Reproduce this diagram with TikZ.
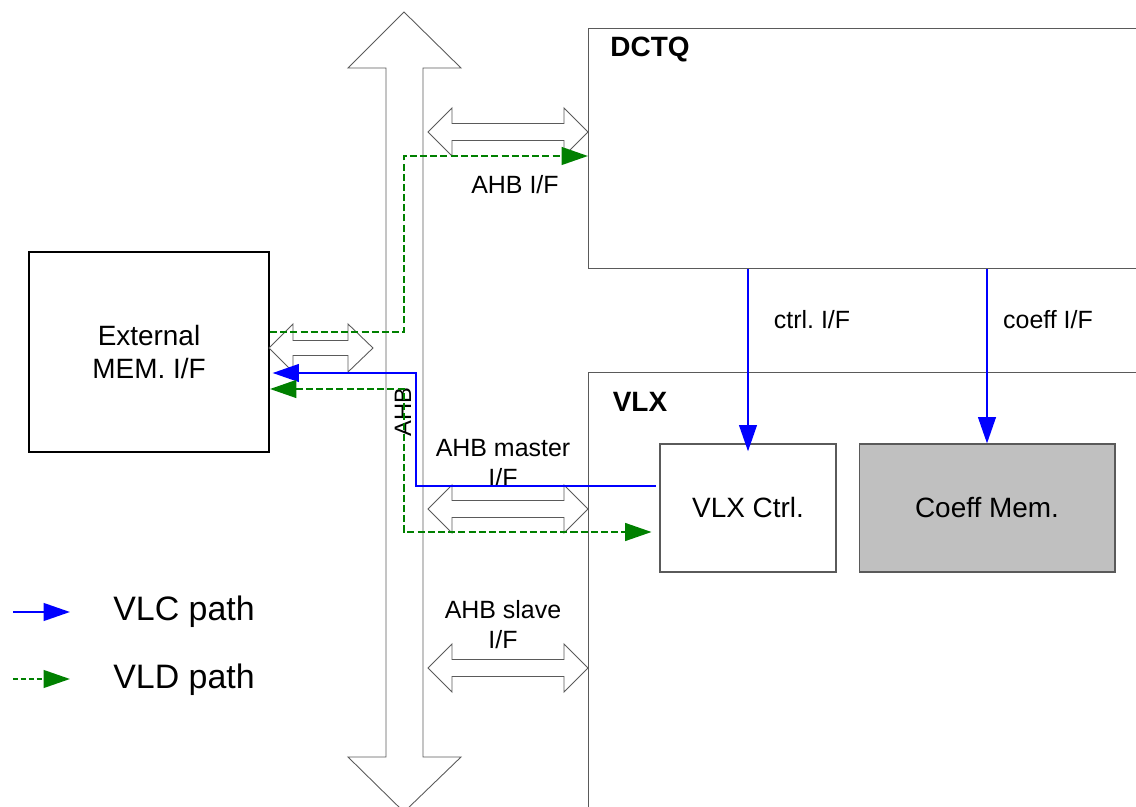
\documentclass[tikz,border=0pt]{standalone}
\usepackage{fontspec}
\setmainfont{Liberation Sans}
\usetikzlibrary{positioning,arrows.meta,calc}
\definecolor{vlcblue}{RGB}{0,0,255}
\definecolor{vldgreen}{RGB}{0,128,0}
\definecolor{memgray}{RGB}{192,192,192}
\definecolor{edgegray}{RGB}{90,90,90}

\begin{document}
\begin{tikzpicture}[x=0.02cm,y=-0.02cm,>={Triangle[length=15pt,width=10pt]},
  every node/.style={font=\fontsize{14.2}{17}\selectfont,inner sep=0pt},
  busline/.style={draw=edgegray,line width=0.5pt,fill=white},
  blockbox/.style={draw=edgegray,line width=0.6pt,anchor=north west},
  unitbox/.style={draw=edgegray,line width=0.6pt,minimum width=3.52cm,minimum height=2.56cm,font=\fontsize{15.9}{19}\selectfont},
  boxtitle/.style={font=\fontsize{15.9}{19}\selectfont\bfseries},
  vlc/.style={draw=vlcblue,line width=1.4pt},
  vld/.style={draw=vldgreen,line width=1.4pt,dash pattern=on 4pt off 1.8pt},
  legendtext/.style={font=\fontsize{19.3}{23}\selectfont,anchor=west}]
\useasboundingbox (0,0) rectangle (1136,807);
\node[blockbox,minimum width=11.4cm,minimum height=4.8cm] (dctq) at (588,28) {};
\node[blockbox,minimum width=11.4cm,minimum height=9.2cm] (vlx) at (588,372) {};
\node[boxtitle] (dctqtitle) at (650,50) {DCTQ};
\node[boxtitle] (vlxtitle) at (640,402) {VLX};
\node[unitbox] (vlxctrl) at (748,508) {VLX Ctrl.};
\node[unitbox,fill=memgray,minimum width=5.12cm] (coeffmem) at (987,508) {Coeff Mem.};
\node[unitbox,draw=black,line width=1.1pt,minimum width=4.8cm,minimum height=4cm,align=center,font=\fontsize{15.9}{18.8}\selectfont] (extmem) at (149,352) {External\\MEM.\ I/F};
\draw[busline] (404,12) -- (461,68) -- (423,68) -- (423,757) -- (461,757) -- (404,812) -- (348,757) -- (386,757) -- (386,68) -- (348,68) -- cycle;
\node[rotate=90,font=\fontsize{13.5}{16}\selectfont] (ahb) at (403,412) {AHB};
\foreach \yc in {132,509,668}
  \draw[busline] (428,\yc) -- (452,\yc-24) -- (452,\yc-8.5) -- (564,\yc-8.5) -- (564,\yc-24) -- (588,\yc) -- (564,\yc+24) -- (564,\yc+8.5) -- (452,\yc+8.5) -- (452,\yc+24) -- cycle;
\draw[busline] (269,348) -- (293,324) -- (293,340.5) -- (348,340.5) -- (348,324) -- (373,348) -- (348,372) -- (348,355.5) -- (293,355.5) -- (293,372) -- cycle;
\node (ahbif) at (515,185) {AHB I/F};
\node[align=center] (masterif) at (503,463) {AHB master\\I/F};
\node[align=center] (slaveif) at (503,625) {AHB slave\\I/F};
\node (ctrlif) at (812,320) {ctrl.\ I/F};
\node (coeffif) at (1048,320) {coeff I/F};
\draw[vlc,->,shorten >=-4.5pt] (dctq.south -| vlxctrl.north) -- (vlxctrl.north);
\draw[vlc,->] (dctq.south -| coeffmem.north) -- (coeffmem.north);
\coordinate (vlcbend) at (416,373);
\draw[vlc,->,shorten <=2pt,shorten >=1.5pt] (vlxctrl.west |- 0,486) -| (vlcbend) -- (extmem.east |- vlcbend);
\coordinate (vldup) at (404,332);
\draw[vld,->] (extmem.east |- vldup) -- (vldup) |- (dctq.west |- 0,156);
\coordinate (vldlow) at (404,532);
\draw[vld,<->,shorten >=4.5pt] (extmem.east |- 0,389) -| (vldlow) -- (vlxctrl.west |- vldlow);
\coordinate (vlcfrom) at (13,612);
\coordinate (vlcto) at (70,612);
\draw[vlc,->] (vlcfrom) -- (vlcto);
\node[legendtext] (vlclabel) at (113,612) {VLC path};
\coordinate (vldfrom) at (13,679);
\coordinate (vldto) at (70,679);
\draw[vld,dash pattern=on 3pt off 1.5pt,->] (vldfrom) -- (vldto);
\node[legendtext] (vldlabel) at (113,680) {VLD path};
\end{tikzpicture}
\end{document}
